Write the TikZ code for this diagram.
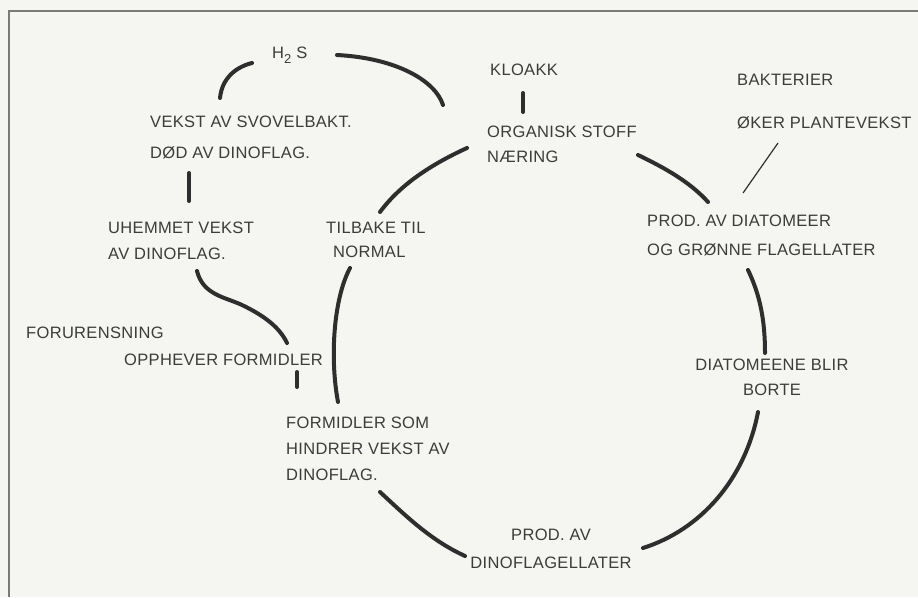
\documentclass[tikz,border=0pt]{standalone}
\usepackage{fontspec}
\setmainfont{Liberation Sans}[LetterSpace=2]
\definecolor{paper}{HTML}{F5F5F1}
\definecolor{txt}{HTML}{3C3C3C}
\definecolor{ink}{HTML}{2E2E2E}
\definecolor{framec}{HTML}{7A7A7A}
\tikzset{
  lab/.style={font=\fontsize{16.5}{#1}\selectfont, text=txt, inner sep=0pt, anchor=north west, align=left},
  lab/.default=20,
  clab/.style={lab=#1, anchor=north, align=center},
  link/.style={draw=ink, line width=4pt, line cap=round},
  thin/.style={draw=ink, line width=1.2pt},
  frame/.style={draw=framec, line width=2pt}
}
\begin{document}
\begin{tikzpicture}[x=1pt,y=-1pt]
\useasboundingbox (0,0) rectangle (918,597);
\fill[paper] (0,0) rectangle (918,597);
\draw[frame] (9,597) -- (9,11) -- (918,11);

% labels
\node[lab] (h2s) at (272,47) {H\raisebox{-5pt}{\fontsize{13}{13}\selectfont 2}\hspace{5pt}S};
\node[lab] (kloakk) at (490,64) {KLOAKK};
\node[lab=43] (bakt) at (737,74) {BAKTERIER\\ØKER PLANTEVEKST};
\node[lab=31] (vekst) at (150,116) {VEKST AV SVOVELBAKT.\\DØD AV DINOFLAG.};
\node[lab=25] (org) at (487,126) {ORGANISK STOFF\\NÆRING};
\node[lab=26] (uhem) at (108,222) {UHEMMET VEKST\\AV DINOFLAG.};
\node[lab=24] (tilb) at (326,222) {TILBAKE TIL\\\hspace*{7pt}NORMAL};
\node[lab=29] (pdiat) at (647,215) {PROD. AV DIATOMEER\\OG GRØNNE FLAGELLATER};
\node[lab] (forur) at (26,327) {FORURENSNING};
\node[lab] (opph) at (124,354) {OPPHEVER FORMIDLER};
\node[lab=26] (form) at (286,417) {FORMIDLER SOM\\HINDRER VEKST AV\\DINOFLAG.};
\node[clab=25] (dborte) at (772,359) {DIATOMEENE BLIR\\BORTE};
\node[clab=28] (pdino) at (551,529) {PROD. AV\\DINOFLAGELLATER};

% connector end points
\coordinate (a1) at (220,98);  \coordinate (a2) at (252,63);
\coordinate (b1) at (337,55);  \coordinate (b2) at (443,105);
\coordinate (c1) at (189,173); \coordinate (c2) at (189,201);
\coordinate (d1) at (197,271); \coordinate (d2) at (287,343);
\coordinate (e1) at (297,372); \coordinate (e2) at (297,387);
\coordinate (f1) at (467,148); \coordinate (f2) at (380,212);
\coordinate (g1) at (350,268); \coordinate (g2) at (338,402);
\coordinate (h1) at (380,492); \coordinate (h2) at (465,556);
\coordinate (i1) at (643,548); \coordinate (i2) at (758,412);
\coordinate (j1) at (748,270); \coordinate (j2) at (765,353);
\coordinate (k1) at (638,155); \coordinate (k2) at (708,202);
\coordinate (l1) at (523,93);  \coordinate (l2) at (523,112);
\coordinate (m1) at (778,143); \coordinate (m2) at (743,193);

% connectors
\draw[link] (a1) .. controls (222,78) and (236,67) .. (a2);
\draw[link] (b1) .. controls (395,58) and (435,80) .. (b2);
\draw[link] (c1) -- (c2);
\draw[link] (d1) .. controls (203,295) and (225,297) .. (242,305)
             .. controls (265,316) and (280,328) .. (d2);
\draw[link] (e1) -- (e2);
\draw[link] (f1) .. controls (430,165) and (400,185) .. (f2);
\draw[link] (g1) .. controls (333,300) and (330,360) .. (g2);
\draw[link] (h1) .. controls (405,515) and (430,540) .. (h2);
\draw[link] (i1) .. controls (700,530) and (745,480) .. (i2);
\draw[link] (j1) .. controls (760,295) and (765,320) .. (j2);
\draw[link] (k1) .. controls (665,168) and (690,182) .. (k2);
\draw[link] (l1) -- (l2);
\draw[thin] (m1) -- (m2);
\end{tikzpicture}
\end{document}
